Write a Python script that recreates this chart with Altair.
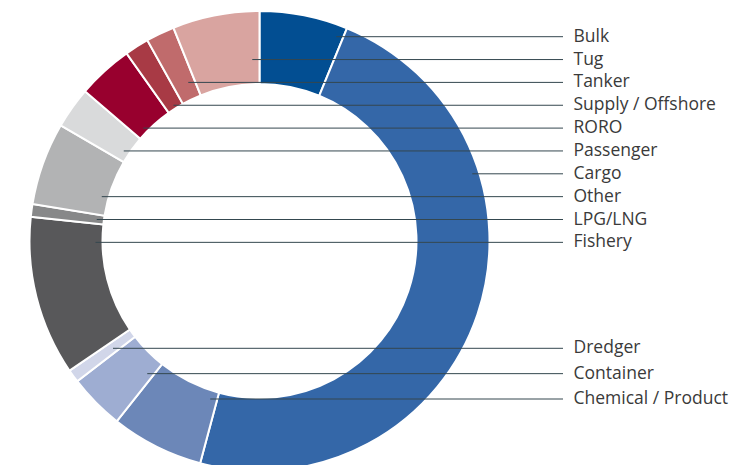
import math
import altair as alt
import pandas as pd

# ---- data ----
categories = ["Bulk", "Cargo", "Chemical / Product", "Container", "Dredger",
              "Fishery", "LPG/LNG", "Other", "Passenger", "RORO",
              "Supply / Offshore", "Tanker", "Tug"]
shares = [6.2, 47.9, 6.5, 3.9, 0.9, 11.2, 0.9, 5.8, 2.9, 3.9, 1.7, 2.0, 6.1]
colors = ["#024e92", "#3467a8", "#6c87b8", "#9eadd2", "#d1d6e9",
          "#58585a", "#878889", "#b2b3b4", "#d9dadb", "#98002e",
          "#a83a45", "#c06b6c", "#d9a4a0"]
label_order_top = ["Bulk", "Tug", "Tanker", "Supply / Offshore", "RORO",
                   "Passenger", "Cargo", "Other", "LPG/LNG", "Fishery"]
label_order_bottom = ["Dredger", "Container", "Chemical / Product"]

# ---- layout ----
W, H = 721, 457
CX, CY = 251.5, 233.0
R_OUT, R_IN = 230, 157
TOP_Y0, TOP_STEP = 28.7, 22.85
BOT_Y0, BOT_STEP = 340.3, 25.35
RULE_END_X = 555
TEXT_X = 565.5
INSET = 7

df = pd.DataFrame({"cat": categories, "share": shares,
                   "idx": list(range(len(categories)))})

# segment angle ranges (degrees clockwise from 12 o'clock)
total = sum(shares)
bounds = {}
acc = 0.0
for c, v in zip(categories, shares):
    a0 = acc / total * 360
    acc += v
    a1 = acc / total * 360
    bounds[c] = (a0, a1)

label_y = {}
for k, c in enumerate(label_order_top):
    label_y[c] = TOP_Y0 + TOP_STEP * k
for k, c in enumerate(label_order_bottom):
    label_y[c] = BOT_Y0 + BOT_STEP * k


def leader_start(cat, y):
    a0, a1 = bounds[cat]
    x = CX + R_OUT
    while x >= CX - R_OUT:
        dx, dy = x - CX, y - CY
        d = math.hypot(dx, dy)
        if R_IN <= d <= R_OUT:
            ang = math.degrees(math.atan2(dx, -dy)) % 360
            if a0 <= ang <= a1:
                return x - INSET
        x -= 0.25
    return CX


rows = []
for c in categories:
    y = label_y[c]
    rows.append({"cat": c, "y": y, "x0": leader_start(c, y),
                 "x1": RULE_END_X, "tx": TEXT_X})
ldf = pd.DataFrame(rows)

arcs = alt.Chart(df).mark_arc(
    outerRadius=R_OUT, innerRadius=R_IN, stroke="white", strokeWidth=2
).encode(
    theta=alt.Theta("share:Q", stack=True),
    order=alt.Order("idx:Q"),
    color=alt.Color("cat:N", scale=alt.Scale(domain=categories, range=colors),
                    legend=None),
    x=alt.value(CX),
    y=alt.value(CY),
)

rules = alt.Chart(ldf).mark_rule(color="#34474f", strokeWidth=1).encode(
    x=alt.X("x0:Q", scale=None),
    x2="x1:Q",
    y=alt.Y("y:Q", scale=None),
)

texts = alt.Chart(ldf).mark_text(
    align="left", baseline="middle", font="Open Sans", fontSize=17.5,
    color="#3a3a3a"
).encode(
    x=alt.X("tx:Q", scale=None),
    y=alt.Y("y:Q", scale=None),
    text="cat:N",
)

chart = alt.layer(arcs, rules, texts).properties(
    width=W, height=H, padding=0, autosize=alt.AutoSizeParams(type="none"),
    background="white"
).configure_view(stroke=None)

chart.save("out.html", embed_options={"renderer": "svg", "actions": False})
